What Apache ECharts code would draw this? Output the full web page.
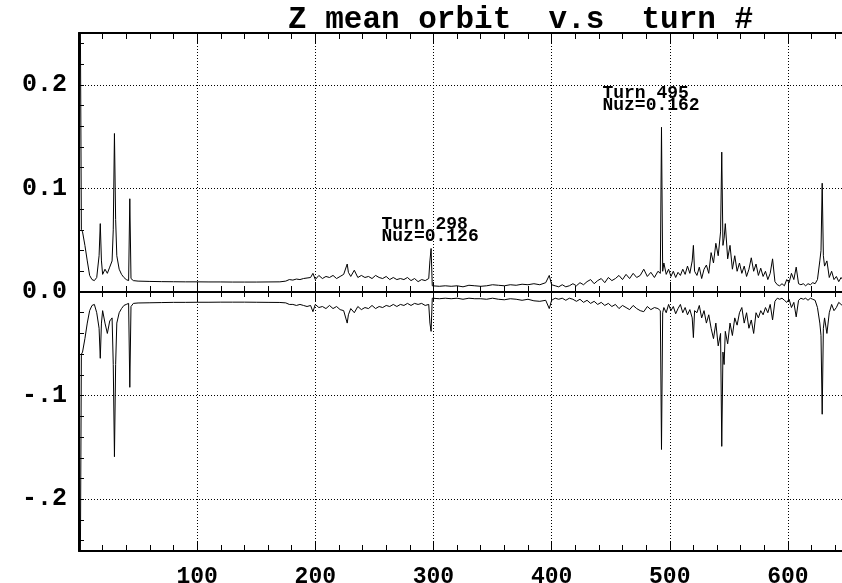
<!DOCTYPE html>
<html><head><meta charset="utf-8">
<script src="https://cdn.jsdelivr.net/npm/echarts@6/dist/echarts.min.js"></script>
<style>html,body{margin:0;padding:0;background:#fff;}#c{width:842px;height:583px;}</style>
</head><body><div id="c"></div>
<script>
const titleText = 'Z mean orbit  v.s  turn #';
const xLabelValues = [100, 200, 300, 400, 500, 600];
const xGridValues = [100, 200, 300, 400, 500, 600];
const yLabelValues = [-0.2, -0.1, 0, 0.1, 0.2];
const yLabelTexts = ['-.2', '-.1', '0.0', '0.1', '0.2'];
const yGridValues = [-0.2, -0.1, 0.1, 0.2];
const yTickValues = [-0.24, -0.22, -0.2, -0.18, -0.16, -0.14, -0.12, -0.1, -0.08, -0.06, -0.04, -0.02, 0,
  0.02, 0.04, 0.06, 0.08, 0.1, 0.12, 0.14, 0.16, 0.18, 0.2, 0.22, 0.24];

const turns = [
  1,2,3,5,7,9,11,13,15,17,18,19,20,22,24,26,28,29,30,31,32,34,36,38,40,42,43,44,46,
  50,60,70,80,90,100,110,120,130,140,150,160,170,
  175,178,181,184,187,190,193,196,198,200,203,206,209,212,215,218,221,224,227,228,230,233,236,239,242,245,248,251,254,257,260,263,266,269,272,275,278,281,284,287,290,293,296,297,298,299,
  300,305,310,315,320,325,330,335,340,345,350,355,360,365,370,375,380,385,390,395,398,400,
  403,406,409,412,415,418,421,424,427,430,433,436,439,442,445,448,451,454,457,460,463,466,469,472,475,478,481,484,487,490,492,493,494,
  495,497,499,501,503,505,507,509,511,513,515,517,519,520,521,523,525,527,529,531,533,535,537,539,541,543,544,545,546,547,549,551,553,555,557,559,
  561,563,565,567,569,571,573,575,577,579,581,583,585,587,589,591,593,595,597,599,601,603,605,607,609,611,613,615,617,619,621,623,625,627,628,629,630,631,633,635,637,639,641,643,645,647,650
];
const zUpper = [
  0.30,0.06,0.058,0.045,0.03,0.016,0.012,0.011,0.014,0.035,0.066,0.03,0.017,0.022,0.018,0.024,0.03,0.06,0.153,0.07,0.035,0.022,0.017,0.014,0.012,0.011,0.09,0.013,0.011,
  0.0105,0.0102,0.0100,0.0099,0.0098,0.0098,0.0097,0.0097,0.0096,0.0096,0.0096,0.0097,0.0098,
  0.0105,0.012,0.0115,0.0125,0.012,0.013,0.0135,0.014,0.018,0.012,0.016,0.013,0.015,0.014,0.016,0.013,0.015,0.017,0.027,0.019,0.015,0.021,0.014,0.016,0.014,0.015,0.013,0.016,0.014,0.013,0.015,0.012,0.014,0.012,0.013,0.012,0.014,0.011,0.013,0.010,0.012,0.011,0.013,0.03,0.042,0.006,
  0.006,0.0055,0.006,0.0055,0.006,0.005,0.0065,0.006,0.0055,0.006,0.007,0.0065,0.006,0.007,0.0065,0.0075,0.007,0.008,0.007,0.009,0.016,0.007,
  0.006,0.005,0.007,0.005,0.006,0.008,0.006,0.009,0.007,0.010,0.012,0.008,0.011,0.013,0.009,0.014,0.011,0.013,0.016,0.012,0.017,0.013,0.018,0.014,0.016,0.022,0.015,0.019,0.014,0.020,0.018,0.159,0.02,
  0.028,0.017,0.022,0.015,0.020,0.014,0.019,0.016,0.022,0.017,0.025,0.018,0.03,0.045,0.02,0.016,0.024,0.013,0.022,0.026,0.018,0.038,0.028,0.047,0.035,0.058,0.135,0.045,0.052,0.066,0.032,0.045,0.022,0.035,0.02,0.028,
  0.018,0.025,0.015,0.022,0.033,0.02,0.027,0.016,0.023,0.015,0.02,0.012,0.018,0.032,0.01,0.007,0.006,0.008,0.006,0.012,0.009,0.018,0.012,0.024,0.008,0.007,0.008,0.006,0.008,0.007,0.009,0.008,0.012,0.03,0.04,0.105,0.035,0.025,0.03,0.014,0.02,0.012,0.015,0.01,0.014,0.011,0.012
];
const zLower = [
  -0.30,-0.06,-0.058,-0.045,-0.03,-0.018,-0.013,-0.012,-0.02,-0.035,-0.064,-0.03,-0.018,-0.03,-0.04,-0.028,-0.025,-0.07,-0.159,-0.07,-0.03,-0.02,-0.016,-0.013,-0.012,-0.011,-0.092,-0.014,-0.011,
  -0.0106,-0.0104,-0.0102,-0.0100,-0.0100,-0.0099,-0.0099,-0.0098,-0.0098,-0.0098,-0.0099,-0.0100,-0.0101,
  -0.0105,-0.012,-0.012,-0.013,-0.012,-0.013,-0.014,-0.013,-0.019,-0.012,-0.015,-0.014,-0.016,-0.013,-0.016,-0.014,-0.017,-0.018,-0.030,-0.022,-0.016,-0.020,-0.014,-0.017,-0.015,-0.016,-0.013,-0.016,-0.014,-0.015,-0.013,-0.014,-0.012,-0.014,-0.012,-0.013,-0.011,-0.013,-0.011,-0.012,-0.011,-0.013,-0.012,-0.03,-0.038,-0.006,
  -0.006,-0.0065,-0.006,-0.0065,-0.006,-0.007,-0.006,-0.0065,-0.0065,-0.007,-0.006,-0.007,-0.0075,-0.0065,-0.007,-0.008,-0.007,-0.0085,-0.009,-0.008,-0.016,-0.008,
  -0.006,-0.007,-0.006,-0.008,-0.006,-0.007,-0.009,-0.007,-0.010,-0.008,-0.011,-0.009,-0.012,-0.010,-0.013,-0.011,-0.014,-0.012,-0.016,-0.013,-0.015,-0.017,-0.013,-0.016,-0.018,-0.019,-0.014,-0.017,-0.015,-0.016,-0.018,-0.152,-0.02,
  -0.015,-0.02,-0.012,-0.018,-0.014,-0.021,-0.016,-0.012,-0.02,-0.015,-0.022,-0.017,-0.025,-0.044,-0.018,-0.02,-0.013,-0.025,-0.018,-0.03,-0.022,-0.035,-0.045,-0.03,-0.052,-0.04,-0.149,-0.058,-0.07,-0.038,-0.05,-0.03,-0.042,-0.025,-0.032,-0.02,
  -0.015,-0.03,-0.02,-0.035,-0.027,-0.04,-0.02,-0.025,-0.018,-0.022,-0.015,-0.02,-0.012,-0.027,-0.009,-0.006,-0.007,-0.006,-0.008,-0.01,-0.007,-0.015,-0.01,-0.024,-0.008,-0.006,-0.007,-0.006,-0.008,-0.006,-0.007,-0.008,-0.015,-0.03,-0.042,-0.118,-0.035,-0.025,-0.04,-0.02,-0.012,-0.018,-0.015,-0.01,-0.012,-0.014,-0.016
];
const annotTexts = [['Turn 298', 'Nuz=0.126'], ['Turn 495', 'Nuz=0.162']];
const annotAnchor = [[256, 0.074], [443, 0.2]];

const FONT = 'Liberation Mono';
const chart = echarts.init(document.getElementById('c'), null, {renderer: 'canvas'});
const xBase = {type: 'value', min: 0, max: 650, interval: 100, splitLine: {show: false}};
const blk = {color: '#000', width: 1};
const gridDash = {color: '#000', width: 1, type: [1, 2]};
const gridMain = {left: 79, top: 33, width: 768, height: 518, containLabel: false, outerBoundsMode: 'none'};

const option = {
  animation: false,
  backgroundColor: '#fff',
  title: {text: titleText, left: 283, top: 0,
    textStyle: {fontFamily: FONT, fontWeight: 'bold', fontSize: 31, color: '#000'}},
  grid: [gridMain],
  xAxis: [
    Object.assign({}, xBase, {gridIndex: 0, position: 'bottom',
      axisLine: {onZero: false, lineStyle: {color: '#000', width: 2}},
      axisTick: {inside: true, length: 10, lineStyle: blk},
      minorTick: {show: true, splitNumber: 5, length: 6, lineStyle: blk},
      axisLabel: {margin: 15, color: '#000', fontFamily: FONT, fontWeight: 'bold', fontSize: 23,
        formatter: v => xLabelValues.indexOf(v) >= 0 ? String(v) : ''}}),
    Object.assign({}, xBase, {gridIndex: 0, position: 'top',
      axisLine: {onZero: false, lineStyle: {color: '#000', width: 2}},
      axisTick: {inside: true, length: 10, lineStyle: blk},
      minorTick: {show: true, splitNumber: 5, length: 6, lineStyle: blk},
      axisLabel: {show: false}})
  ],
  yAxis: [{
    gridIndex: 0, type: 'value', min: -0.25, max: 0.25, position: 'left',
    axisLine: {onZero: false, lineStyle: {color: '#000', width: 2}},
    axisTick: {inside: true, length: 5, lineStyle: blk, customValues: yTickValues},
    splitLine: {show: false},
    axisLabel: {customValues: yLabelValues, margin: 12, color: '#000', fontFamily: FONT, fontWeight: 'bold', fontSize: 25,
      formatter: v => {
        const i = yLabelValues.findIndex(a => Math.abs(a - v) < 1e-9);
        return i >= 0 ? yLabelTexts[i] : '';
      }}
  }],
  series: [
    {type: 'line', xAxisIndex: 0, yAxisIndex: 0, showSymbol: false, symbol: 'none',
      data: turns.map((t, i) => [t, zUpper[i]]), lineStyle: {color: '#000', width: 1}, z: 3,
      markLine: {silent: true, symbol: 'none', label: {show: false}, lineStyle: gridDash, z: 1,
        data: xGridValues.map(v => ({xAxis: v})).concat(yGridValues.map(v => ({yAxis: v})))}},
    {type: 'line', xAxisIndex: 0, yAxisIndex: 0, showSymbol: false, symbol: 'none',
      data: turns.map((t, i) => [t, zLower[i]]), lineStyle: {color: '#000', width: 1}, z: 3}
  ]
};
chart.setOption(option);

// zero axis with crossing ticks: a thin second grid placed at y = 0 of the main grid
const zeroY = chart.convertToPixel({gridIndex: 0}, [0, 0])[1];
option.grid.push({left: gridMain.left, width: gridMain.width, top: zeroY - 1, height: 1, containLabel: false, outerBoundsMode: 'none'});
option.xAxis.push(Object.assign({}, xBase, {gridIndex: 1, position: 'bottom',
  axisLine: {onZero: false, lineStyle: {color: '#000', width: 2}},
  axisTick: {inside: false, length: 9, lineStyle: blk},
  minorTick: {show: true, splitNumber: 5, length: 5, lineStyle: blk},
  axisLabel: {show: false}}));
option.xAxis.push(Object.assign({}, xBase, {gridIndex: 1, position: 'top',
  axisLine: {show: false, onZero: false},
  axisTick: {inside: false, length: 9, lineStyle: blk},
  minorTick: {show: true, splitNumber: 5, length: 5, lineStyle: blk},
  axisLabel: {show: false}}));
option.yAxis.push({gridIndex: 1, type: 'value', min: 0, max: 1, show: false});

const gfx = [];
annotTexts.forEach((lines, k) => {
  const p = chart.convertToPixel({gridIndex: 0}, annotAnchor[k]);
  lines.forEach((s, j) => {
    gfx.push({type: 'text', x: p[0], y: p[1] + j * 12, z: 10,
      style: {text: s, fill: '#000', font: 'bold 18px "Liberation Mono"', textVerticalAlign: 'top'}});
  });
});
option.graphic = gfx;
chart.setOption(option, true);
</script>
</body></html>
